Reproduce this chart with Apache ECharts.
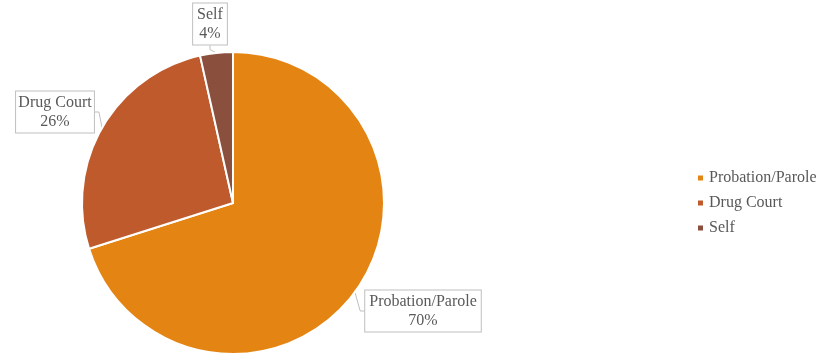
<!DOCTYPE html>
<html>
<head>
<meta charset="utf-8">
<script src="https://cdn.jsdelivr.net/npm/echarts@6/dist/echarts.min.js"></script>
<style>
html, body { margin: 0; padding: 0; background: #fff; }
#echart_pie { width: 822px; height: 355px; }
</style>
</head>
<body>
<div id="echart_pie"></div>
<script>
var categories = ['Probation/Parole', 'Drug Court', 'Self'];
var shares = [70.1, 26.4, 3.5];
var colors = ['#E48413', '#BE5A2C', '#8B4F3D'];
// callout box centres (layout only)
var calloutPos = [[423, 311], [55, 112], [210, 24]];

var myChart_pie = echarts.init(document.getElementById('echart_pie'));
var option_pie = {
    color: colors,
    textStyle: { fontFamily: '"Liberation Serif", "DejaVu Serif", serif' },
    legend: {
        orient: 'vertical',
        left: 691,
        top: 165,
        icon: 'rect',
        itemWidth: 7,
        itemHeight: 7,
        itemGap: 9,
        textStyle: { color: '#595959', fontSize: 16, fontFamily: '"Liberation Serif", serif' },
        data: categories
    },
    series: [
        {
            name: 'Referral',
            type: 'pie',
            radius: 151,
            center: [233, 203],
            startAngle: 90,
            clockwise: true,
            animation: false,
            percentPrecision: 0,
            itemStyle: { borderColor: '#fff', borderWidth: 2 },
            label: {
                show: true,
                position: 'outside',
                formatter: '{b}\n{d}%',
                color: '#595959',
                fontSize: 16,
                lineHeight: 19,
                align: 'center',
                overflow: 'none',
                fontFamily: '"Liberation Serif", serif',
                backgroundColor: '#fff',
                borderColor: '#BFBFBF',
                borderWidth: 1,
                padding: [2, 4, 1, 4]
            },
            labelLine: {
                show: true,
                length: 6,
                length2: 4,
                lineStyle: { color: '#BFBFBF', width: 1 }
            },
            labelLayout: function (params) {
                var p = calloutPos[params.dataIndex];
                return { x: p[0], y: p[1], align: 'center', verticalAlign: 'middle' };
            },
            data: categories.map(function (c, i) {
                return { name: c, value: shares[i] };
            })
        }
    ]
};
myChart_pie.setOption(option_pie);
</script>
</body>
</html>
